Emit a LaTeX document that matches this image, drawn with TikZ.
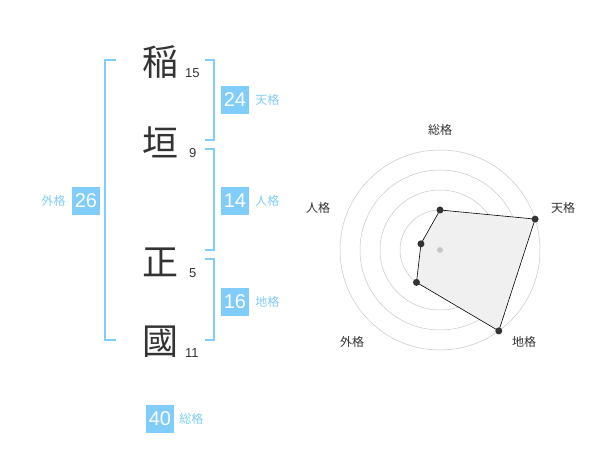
\documentclass[tikz,border=0pt]{standalone}
\usepackage{fontspec}
\usetikzlibrary{positioning}
\setmainfont{Liberation Sans}
\newfontfamily\jpfont{Noto Sans CJK JP}
\definecolor{kakublue}{RGB}{128,204,250}
\definecolor{inkgray}{RGB}{51,51,51}
\begin{document}
\begin{tikzpicture}[
		x=1pt, y=-1pt,
		kanji/.style={font=\jpfont\fontsize{36}{36}\selectfont, text=inkgray, inner sep=0pt},
		strokes/.style={font=\fontsize{13}{13}\selectfont, text=inkgray, inner sep=0pt, anchor=west},
		scorebox/.style={fill=kakublue, text=white, minimum size=28pt, inner sep=0pt, font=\fontsize{20}{20}\selectfont},
		kakulabel/.style={font=\jpfont\fontsize{12}{12}\selectfont, text=kakublue, inner sep=0pt},
		bracket/.style={draw=kakublue, line width=1.5pt},
		ring/.style={draw=black!22, line width=0.5pt},
		axislabel/.style={font=\jpfont\fontsize{12}{12}\selectfont, text=inkgray, inner sep=0pt}
	]
	\useasboundingbox (0,0) rectangle (600,470);

	% name characters and stroke counts
	\node[kanji] (c1) at (160,62) {稲};
	\node[kanji] (c2) at (160,142) {垣};
	\node[kanji] (c3) at (160,262) {正};
	\node[kanji] (c4) at (160,342) {國};
	\node[strokes] (n1) at (185,73) {15};
	\node[strokes] (n2) at (189,153) {9};
	\node[strokes] (n3) at (189,273) {5};
	\node[strokes] (n4) at (185,353) {11};

	% brackets
	\draw[bracket] (116,60) -- (105,60) -- (105,340) -- (116,340);
	\draw[bracket] (205,60) -- (214,60) -- (214,140) -- (205,140);
	\draw[bracket] (205,149) -- (214,149) -- (214,250) -- (205,250);
	\draw[bracket] (205,259) -- (214,259) -- (214,340) -- (205,340);

	% scores
	\node[scorebox] (ten) at (235,100) {24};
	\node[kakulabel, right=6pt of ten] {天格};
	\node[scorebox] (jin) at (235,201) {14};
	\node[kakulabel, right=6pt of jin] {人格};
	\node[scorebox] (chi) at (235,302) {16};
	\node[kakulabel, right=6pt of chi] {地格};
	\node[scorebox] (gai) at (86,201) {26};
	\node[kakulabel, left=6pt of gai] {外格};
	\node[scorebox] (sou) at (160,419) {40};
	\node[kakulabel, right=5pt of sou] {総格};

	% radar chart
	\begin{scope}[shift={(440,250)}, y=1pt]
		\foreach \r in {20,40,...,100}
			\draw[ring] (0,0) circle (\r);
		\coordinate (rsou) at (90:40);
		\coordinate (rten) at (18:100);
		\coordinate (rchi) at (-54:100);
		\coordinate (rgai) at (-126:40);
		\coordinate (rjin) at (162:20);
		\draw[fill=black!6, line width=0.6pt] (rsou) -- (rten) -- (rchi) -- (rgai) -- (rjin) -- cycle;
		\fill[black!22] (0,0) circle (3);
		\foreach \p in {rsou,rten,rchi,rgai,rjin}
			\fill[inkgray] (\p) circle (3.5);
		\node[axislabel] (lsou) at (0,120) {総格};
		\node[axislabel] (lten) at (123,42) {天格};
		\node[axislabel] (lchi) at (84,-92) {地格};
		\node[axislabel] (lgai) at (-88,-92) {外格};
		\node[axislabel] (ljin) at (-122,42) {人格};
	\end{scope}
\end{tikzpicture}
\end{document}
